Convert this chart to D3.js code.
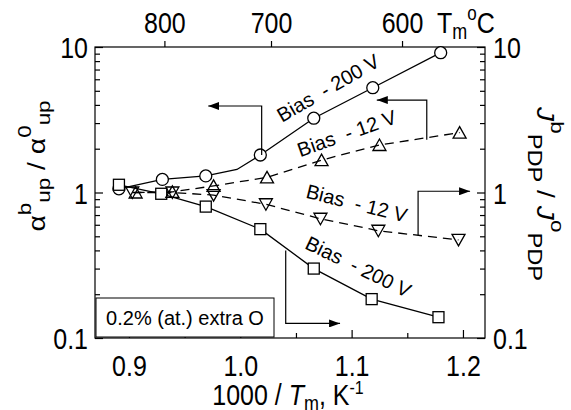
<!DOCTYPE html>
<html>
<head>
<meta charset="utf-8">
<script src="https://cdn.jsdelivr.net/npm/d3@7"></script>
<style>
  body { margin: 0; background: #fff; }
  text { font-family: "Liberation Sans", Arial, sans-serif; fill: #000; }
</style>
</head>
<body>
<svg id="chart" width="571" height="410"></svg>
<script>
// series: [1000/Tm, ratio]
var alpha200 = [[0.891, 1.06], [0.930, 1.23], [0.969, 1.30], [1.018, 1.81], [1.066, 3.24], [1.119, 5.25], [1.180, 9.14]];
var alpha200Knee = [0.997, 1.44];   // bend in the line, no marker
var alpha12 = [[0.906, 1.00], [0.939, 1.01], [0.976, 1.11], [1.024, 1.27], [1.073, 1.67], [1.125, 2.12], [1.197, 2.58]];
var j12 = [[0.903, 1.00], [0.939, 1.00], [0.976, 0.96], [1.023, 0.83], [1.072, 0.66], [1.124, 0.546], [1.196, 0.472]];
var j200 = [[0.891, 1.13], [0.929, 0.98], [0.969, 0.80], [1.018, 0.56], [1.066, 0.30], [1.118, 0.185], [1.178, 0.139]];

var xTicks = [0.9, 1.0, 1.1, 1.2];
var xMinorTicks = [0.95, 1.05, 1.15];
var tempTicks = [800, 700, 600];
var yTicks = [0.1, 1, 10];
var yMinorTicks = [0.2, 0.3, 0.4, 0.5, 0.6, 0.7, 0.8, 0.9, 2, 3, 4, 5, 6, 7, 8, 9];

// annotation arrows, in data units
var arrows = [
  [[1.0192, 1.81], [1.0192, 3.93], [0.9712, 3.93]],
  [[1.1675, 2.30], [1.1675, 4.32], [1.1226, 4.32]],
  [[1.1597, 0.51], [1.1597, 1.02], [1.2064, 1.02]],
  [[1.0408, 0.40], [1.0408, 0.126], [1.0896, 0.126]]
];
var biasLabels = [
  {text: "Bias  - 200 V", x: 1.0788, y: 5.23, angle: -30},
  {text: "Bias  - 12 V", x: 1.0956, y: 2.55, angle: -19.5},
  {text: "Bias  - 12 V", x: 1.1046, y: 0.843, angle: 14},
  {text: "Bias  - 200 V", x: 1.106, y: 0.309, angle: 26}
];

var svg = d3.select("#chart");
var mLeft = 95, mRight = 485, mTop = 47, mBottom = 338;
var stretch = 1.18;

var x = d3.scaleLinear().domain([0.8695, 1.2198]).range([mLeft, mRight]);
var y = d3.scaleLog().domain([0.1, 10]).range([mBottom, mTop]);
var toK = function(c) { return 1000 / (c + 273.15); };

svg.append("defs").append("marker")
  .attr("id", "head")
  .attr("markerUnits", "userSpaceOnUse")
  .attr("markerWidth", 11).attr("markerHeight", 8)
  .attr("refX", 11).attr("refY", 4)
  .attr("orient", "auto")
  .append("path").attr("d", "M0,0 L11,4 L0,8 Z").attr("fill", "#000");

// frame
svg.append("rect")
  .attr("x", mLeft).attr("y", mTop)
  .attr("width", mRight - mLeft).attr("height", mBottom - mTop)
  .attr("fill", "none").attr("stroke", "#000").attr("stroke-width", 1.2);

function styleAxis(g) {
  g.select(".domain").remove();
  g.selectAll("line").attr("stroke", "#000").attr("stroke-width", 1.2);
  g.selectAll("text").style("font-size", "25px").attr("dy", null);
}

// bottom axis
svg.append("g").attr("transform", "translate(0," + mBottom + ")")
  .call(d3.axisBottom(x).tickValues(xTicks).tickSize(-8).tickFormat(d3.format(".1f")))
  .call(styleAxis)
  .selectAll("text").attr("y", 38 / stretch).attr("transform", "scale(1," + stretch + ")");
svg.append("g").attr("transform", "translate(0," + mBottom + ")")
  .call(d3.axisBottom(x).tickValues(xMinorTicks).tickSize(-5).tickFormat(""))
  .call(styleAxis);

// top axis, melting temperature in C
svg.append("g").attr("transform", "translate(0," + mTop + ")")
  .call(d3.axisTop(x).tickValues(tempTicks.map(toK)).tickSize(6)
    .tickFormat(function(d, i) { return tempTicks[i]; }))
  .call(styleAxis)
  .selectAll("text").attr("y", -14 / stretch).attr("transform", "scale(1," + stretch + ")");

// left and right axes
[["L", mLeft], ["R", mRight]].forEach(function(s) {
  var isLeft = s[0] === "L";
  var ax = isLeft ? d3.axisLeft(y) : d3.axisRight(y);
  svg.append("g").attr("transform", "translate(" + s[1] + ",0)")
    .call(ax.tickValues(yTicks).tickSize(-8).tickPadding(0).tickFormat(d3.format("~g")))
    .call(styleAxis)
    .selectAll("text")
    .attr("x", isLeft ? -7 : 8)
    .attr("y", 9)
    .attr("transform", "scale(1," + stretch + ")");
  var ax2 = isLeft ? d3.axisLeft(y) : d3.axisRight(y);
  svg.append("g").attr("transform", "translate(" + s[1] + ",0)")
    .call(ax2.tickValues(yMinorTicks).tickSize(-5).tickFormat(""))
    .call(styleAxis);
});

// lines
var line = d3.line().x(function(d) { return x(d[0]); }).y(function(d) { return y(d[1]); });
var alphaLine = alpha200.concat([alpha200Knee]).sort(function(a, b) { return a[0] - b[0]; });

var series = [
  {data: alphaLine, dash: null},
  {data: j200, dash: null},
  {data: alpha12, dash: "9,6"},
  {data: j12, dash: "9,6"}
];
svg.append("g").selectAll("path").data(series).join("path")
  .attr("d", function(d) { return line(d.data); })
  .attr("fill", "none").attr("stroke", "#000").attr("stroke-width", 1.3)
  .attr("stroke-dasharray", function(d) { return d.dash; });

// markers
var mk = svg.append("g").attr("stroke", "#000").attr("stroke-width", 1.3);
mk.selectAll("circle").data(alpha200).join("circle")
  .attr("cx", function(d) { return x(d[0]); }).attr("cy", function(d) { return y(d[1]); })
  .attr("r", 6).attr("fill", "#fff");
mk.selectAll("rect").data(j200).join("rect")
  .attr("x", function(d) { return x(d[0]) - 5.5; }).attr("y", function(d) { return y(d[1]) - 5.5; })
  .attr("width", 11).attr("height", 11).attr("fill", "#fff");
mk.selectAll("path.up").data(alpha12).join("path").attr("class", "up")
  .attr("transform", function(d) { return "translate(" + x(d[0]) + "," + y(d[1]) + ")"; })
  .attr("d", "M0,-6 L6.5,5.5 L-6.5,5.5 Z").attr("fill", "none");
mk.selectAll("path.down").data(j12).join("path").attr("class", "down")
  .attr("transform", function(d) { return "translate(" + x(d[0]) + "," + y(d[1]) + ")"; })
  .attr("d", "M0,6 L6.5,-5.5 L-6.5,-5.5 Z").attr("fill", "none");

// arrows
svg.append("g").selectAll("path").data(arrows).join("path")
  .attr("d", line)
  .attr("fill", "none").attr("stroke", "#000").attr("stroke-width", 1.2)
  .attr("marker-end", "url(#head)");

// bias labels
svg.append("g").selectAll("text").data(biasLabels).join("text")
  .attr("transform", function(d) {
    return "translate(" + x(d.x) + "," + y(d.y) + ") rotate(" + d.angle + ")";
  })
  .attr("text-anchor", "middle").attr("dy", "0.35em")
  .style("font-size", "20px").style("white-space", "pre")
  .text(function(d) { return d.text; });

// legend box
svg.append("rect").attr("x", 96).attr("y", 298).attr("width", 178).attr("height", 39)
  .attr("fill", "#fff").attr("stroke", "#000").attr("stroke-width", 1);
svg.append("text").attr("x", 185).attr("y", 325).attr("text-anchor", "middle")
  .style("font-size", "20px").text("0.2% (at.) extra O");

// axis titles
var xt = svg.append("text").attr("transform", "translate(288,405) scale(1," + stretch + ")")
  .attr("text-anchor", "middle").style("font-size", "25px");
xt.append("tspan").text("1000 / ");
xt.append("tspan").style("font-style", "italic").text("T");
xt.append("tspan").style("font-size", "18px").attr("dy", 5).text("m");
xt.append("tspan").attr("dy", -5).text(", K");
xt.append("tspan").style("font-size", "16px").attr("dy", -9).text("-1");

var tt = svg.append("text").attr("transform", "translate(437,33) scale(1," + stretch + ")")
  .style("font-size", "25px");
tt.append("tspan").text("T");
tt.append("tspan").style("font-size", "18px").attr("dy", 5).text("m");
tt.append("tspan").style("font-size", "17px").attr("dy", -16).text("o");
tt.append("tspan").attr("dy", 11).text("C");

var yl = svg.append("text").attr("transform", "translate(45,166) scale(1," + stretch + ") rotate(-90)")
  .attr("text-anchor", "middle").style("font-size", "24px").style("white-space", "pre");
yl.append("tspan").text("α");
yl.append("tspan").style("font-size", "19px").attr("dy", -14).text("b");
yl.append("tspan").style("font-size", "19px").attr("dy", 19).text("up");
yl.append("tspan").attr("dy", -5).text(" / α");
yl.append("tspan").style("font-size", "19px").attr("dy", -14).text("0");
yl.append("tspan").style("font-size", "19px").attr("dy", 19).text("up");

var yr = svg.append("text").attr("transform", "translate(537,194) scale(1," + stretch + ") rotate(90)")
  .attr("text-anchor", "middle").style("font-size", "24px").style("white-space", "pre");
yr.append("tspan").style("font-style", "italic").text("J");
yr.append("tspan").style("font-size", "19px").attr("dy", -14).text("b");
yr.append("tspan").style("font-size", "20px").attr("dy", 23).text("PDP");
yr.append("tspan").attr("dy", -9).text(" / ");
yr.append("tspan").style("font-style", "italic").text("J");
yr.append("tspan").style("font-size", "19px").attr("dy", -14).text("o");
yr.append("tspan").style("font-size", "20px").attr("dy", 23).text("PDP");
</script>
</body>
</html>
